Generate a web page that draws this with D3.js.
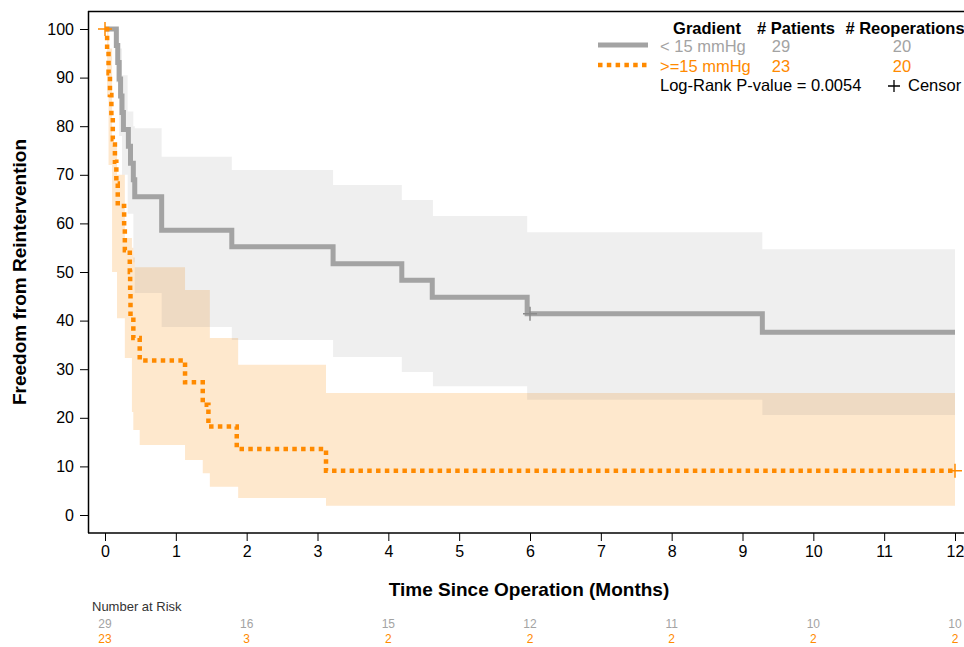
<!DOCTYPE html>
<html><head><meta charset="utf-8">
<script src="https://cdn.jsdelivr.net/npm/d3@7"></script>
<style>body{margin:0;background:#fff;}svg{display:block;font-family:Arial,"Liberation Sans",sans-serif;}</style>
</head><body>
<svg id="c" width="964" height="647"></svg>
<script>
// ---- data ----
const groupNames = ["< 15 mmHg", ">=15 mmHg"];
const patients = [29, 23];
const reoperations = [20, 20];
const pValueText = "Log-Rank P-value = 0.0054";
// KM steps [time, survival %]
const lowSteps = [[0,100],[0.16,96.6],[0.18,93.1],[0.2,89.7],[0.22,86.2],[0.24,82.8],[0.26,79.3],[0.33,75.9],[0.36,72.4],[0.4,69.0],[0.42,65.5],[0.8,58.6],[1.79,55.2],[3.22,51.7],[4.19,48.3],[4.62,44.8],[5.96,41.4],[9.28,37.6],[12,37.6]];
const highSteps = [[0,100],[0.03,95.5],[0.05,90.9],[0.07,86.4],[0.09,81.8],[0.11,77.3],[0.14,72.7],[0.16,68.2],[0.18,63.6],[0.27,59.1],[0.28,54.5],[0.35,50.0],[0.355,45.5],[0.36,40.9],[0.4,36.4],[0.49,31.8],[1.13,27.3],[1.38,22.7],[1.46,18.2],[1.86,13.6],[3.12,9.1],[12,9.1]];
// confidence bands [time, upper, lower]
const lowBand = [[0,100,100],[0.16,100,89],[0.2,96,78],[0.24,90.5,70],[0.32,83,62],[0.4,80,52],[0.42,79.6,45.7],[0.8,73.7,38.7],[1.79,71,36],[3.22,67.9,32.5],[4.19,64.8,29.4],[4.63,61.5,26.5],[5.96,58.2,23.7],[9.28,54.7,20.6],[12,54.7,20.6]];
const highBand = [[0,100,100],[0.03,100,86],[0.05,96,72],[0.1,76,50],[0.17,70,40.5],[0.28,57,32.3],[0.38,55,21.2],[0.4,53,17.5],[0.42,51,17.5],[0.49,51,14.4],[1.13,46.3,11.3],[1.38,46.3,8.6],[1.48,36.4,5.8],[1.88,30.9,3.5],[3.12,25.1,1.9],[12,25.1,1.9]];
// censor marks [time, survival %]
const lowCensor = [[6.0,41.4]];
const highCensor = [[0,100],[12,9.1]];
const xTicks = [0,1,2,3,4,5,6,7,8,9,10,11,12];
const yTicks = [0,10,20,30,40,50,60,70,80,90,100];
const riskTimes = [0,2,4,6,8,10,12];
const riskLow = [29,16,15,12,11,10,10];
const riskHigh = [23,3,2,2,2,2,2];

// ---- drawing ----
const grey = "#a3a3a3", orange = "#ff8a00";
const svg = d3.select("#c");
const x = d3.scaleLinear().domain([0,12]).range([105,955]);
const y = d3.scaleLinear().domain([0,100]).range([515,29]);

const area = d3.area().curve(d3.curveStepAfter).x(d=>x(d[0])).y0(d=>y(d[2])).y1(d=>y(d[1]));
const line = d3.line().curve(d3.curveStepAfter).x(d=>x(d[0])).y(d=>y(d[1]));

svg.append("path").datum(highBand).attr("d",area).attr("fill","#fee8cd");
svg.append("path").datum(lowBand).attr("d",area).attr("fill","rgb(120,120,120)").attr("fill-opacity",0.12);

svg.append("path").datum(lowSteps).attr("d",line).attr("fill","none").attr("stroke",grey).attr("stroke-width",5);
svg.append("path").datum(highSteps).attr("d",line).attr("fill","none").attr("stroke",orange).attr("stroke-width",4.5).attr("stroke-dasharray","4.5,4.3");

function plus(data,color){
  const s=7;
  svg.append("g").selectAll("path").data(data).join("path")
    .attr("d",d=>`M${x(d[0])-s},${y(d[1])}H${x(d[0])+s}M${x(d[0])},${y(d[1])-s}V${y(d[1])+s}`)
    .attr("stroke",color).attr("stroke-width",1.5).attr("fill","none");
}
plus(lowCensor,"#8a8a8a");
plus(highCensor,orange);

// frame
svg.append("line").attr("x1",88).attr("x2",964).attr("y1",11.5).attr("y2",11.5).attr("stroke","#000").attr("stroke-width",1.5);
svg.append("line").attr("x1",88.5).attr("x2",88.5).attr("y1",11).attr("y2",533).attr("stroke","#000").attr("stroke-width",1.5);

const FONT = "Arial,'Liberation Sans',sans-serif";
const xAxis = svg.append("g").attr("transform","translate(0,533)")
  .call(d3.axisBottom(x).tickValues(xTicks).tickSize(8).tickPadding(5).tickFormat(d3.format("d")));
xAxis.select(".domain").attr("d","M88,0H964").attr("stroke-width",1.5);
xAxis.selectAll("text").attr("font-size",16).attr("fill","#000").attr("font-family",FONT);
const yAxis = svg.append("g").attr("transform","translate(88,0)")
  .call(d3.axisLeft(y).tickValues(yTicks).tickSize(8).tickPadding(6));
yAxis.select(".domain").remove();
yAxis.selectAll("text").attr("font-size",16).attr("fill","#000").attr("font-family",FONT);

svg.append("text").attr("x",529).attr("y",596).attr("text-anchor","middle").attr("font-weight","bold").attr("font-size",19).text("Time Since Operation (Months)");
svg.append("text").attr("transform","translate(26,272) rotate(-90)").attr("text-anchor","middle").attr("font-weight","bold").attr("font-size",19).text("Freedom from Reintervention");

// at risk
svg.append("text").attr("x",92).attr("y",611).attr("font-size",13).attr("fill","#333").text("Number at Risk");
svg.append("g").selectAll("text").data(riskTimes).join("text").attr("x",d=>x(d)).attr("y",628).attr("text-anchor","middle").attr("font-size",12).attr("fill","#a3a3a3").text((d,i)=>riskLow[i]);
svg.append("g").selectAll("text").data(riskTimes).join("text").attr("x",d=>x(d)).attr("y",643).attr("text-anchor","middle").attr("font-size",12).attr("fill",orange).text((d,i)=>riskHigh[i]);

// legend
const lg = svg.append("g").attr("font-size",16.5);
lg.append("text").attr("x",707).attr("y",34).attr("text-anchor","middle").attr("font-weight","bold").text("Gradient");
lg.append("text").attr("x",796).attr("y",34).attr("text-anchor","middle").attr("font-weight","bold").text("# Patients");
lg.append("text").attr("x",905).attr("y",34).attr("text-anchor","middle").attr("font-weight","bold").text("# Reoperations");
lg.append("line").attr("x1",598).attr("x2",648).attr("y1",45).attr("y2",45).attr("stroke",grey).attr("stroke-width",5);
lg.append("line").attr("x1",598).attr("x2",648).attr("y1",65).attr("y2",65).attr("stroke",orange).attr("stroke-width",4.5).attr("stroke-dasharray","4.5,4.3");
const colors=[grey,orange];
[0,1].forEach(i=>{
  const yy = 52+i*20;
  lg.append("text").attr("x",660).attr("y",yy).attr("fill",colors[i]).text(groupNames[i]);
  lg.append("text").attr("x",781).attr("y",yy).attr("text-anchor","middle").attr("fill",colors[i]).text(patients[i]);
  lg.append("text").attr("x",902).attr("y",yy).attr("text-anchor","middle").attr("fill",colors[i]).text(reoperations[i]);
});
lg.append("text").attr("x",660).attr("y",91).text(pValueText);
lg.append("path").attr("d","M888,86H900M894,80V92").attr("stroke","#000").attr("stroke-width",1.3);
lg.append("text").attr("x",908).attr("y",91).text("Censor");
</script>
</body></html>
